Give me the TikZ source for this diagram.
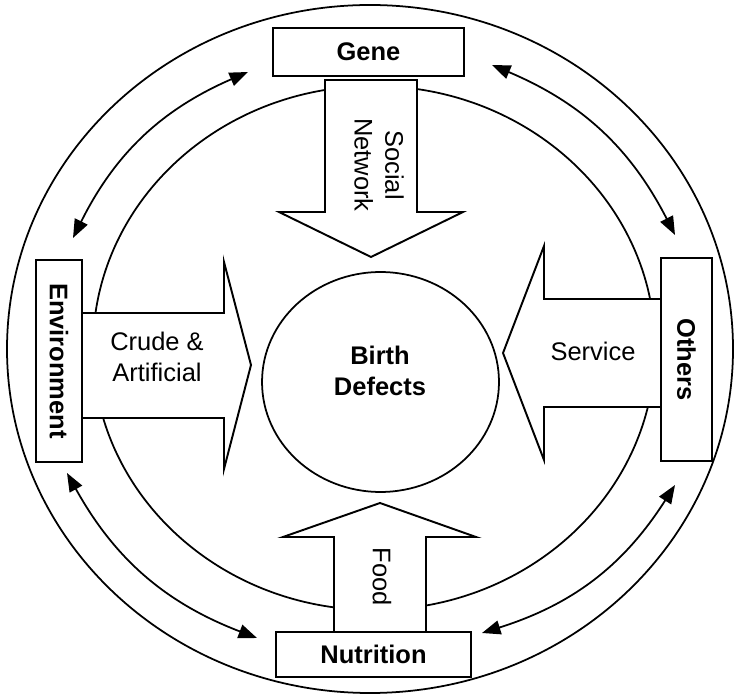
\documentclass[tikz,border=0pt]{standalone}
\usepackage{fontspec}
\setmainfont{Liberation Sans}
\usetikzlibrary{shapes.geometric,arrows.meta,positioning}

\begin{document}
\begin{tikzpicture}[x=0.02cm, y=0.02cm, line width=1pt,
    every node/.style={font=\fontsize{14.5}{17.5}\selectfont, align=center, inner sep=0pt},
    box/.style={rectangle, draw, fill=white, line width=1.1pt, font=\fontsize{14.5}{17.5}\selectfont\bfseries},
    bigarrow/.style={draw, fill=white, line width=1.1pt, line join=miter},
    link/.style={{Triangle[length=10.5pt,width=8pt]}-{Triangle[length=10.5pt,width=8pt]}}]

    \useasboundingbox (0,0) rectangle (736,696);

    % rings
    \draw (370,347) ellipse [x radius=363, y radius=344];
    \draw (374,348) ellipse [x radius=281, y radius=262];

    % links between the factors
    \coordinate (tr1) at (675,461);
    \coordinate (tr2) at (492,631);
    \coordinate (tl1) at (248,624);
    \coordinate (tl2) at (73,458);
    \coordinate (bl1) at (67,223);
    \coordinate (bl2) at (257,58);
    \coordinate (br1) at (482,63);
    \coordinate (br2) at (675,211);
    \draw[link] (tr1) to[bend right=20] (tr2);
    \draw[link] (tl1) to[bend right=20] (tl2);
    \draw[link] (bl1) to[bend right=20] (bl2);
    \draw[link] (br1) to[bend right=20] (br2);

    % big arrows
    \draw[bigarrow] (325,616) -- (325,484) -- (279,484) -- (371,439) -- (463,484) -- (417,484) -- (417,616) -- cycle;
    \draw[bigarrow] (82,383) -- (224,383) -- (224,434) -- (251,331) -- (224,227) -- (224,278) -- (82,278) -- cycle;
    \draw[bigarrow] (661,397) -- (544,397) -- (544,450) -- (503,343) -- (544,236) -- (544,289) -- (661,289) -- cycle;
    \draw[bigarrow] (334,64) -- (334,159) -- (283,159) -- (380,193) -- (476,159) -- (426,159) -- (426,64) -- cycle;

    % factors
    \node[box, minimum width=3.82cm, minimum height=0.96cm] (gene) at (368.5,644) {Gene};
    \node[box, rotate=-90, minimum width=4.04cm, minimum height=0.92cm] (env) at (59,335) {Environment};
    \node[box, rotate=-90, minimum width=4.06cm, minimum height=1.02cm] (others) at (686.5,336.5) {Others};
    \node[box, minimum width=3.9cm, minimum height=0.9cm] (nutrition) at (373.5,41.5) {Nutrition};

    % centre
    \node[ellipse, draw, minimum width=4.74cm, minimum height=4.4cm] (defects) at (380.5,314) {};
    \node[font=\fontsize{14.5}{17.5}\selectfont\bfseries] (defectstext) at (380,325) {Birth\\Defects};

    % arrow labels
    \node[rotate=-90] (social) at (379,531) {Social\\Network};
    \node (crude) at (157,339) {Crude \&\\Artificial};
    \node (service) at (593,345) {Service};
    \node[rotate=-90] (food) at (382,119) {Food};

\end{tikzpicture}
\end{document}
